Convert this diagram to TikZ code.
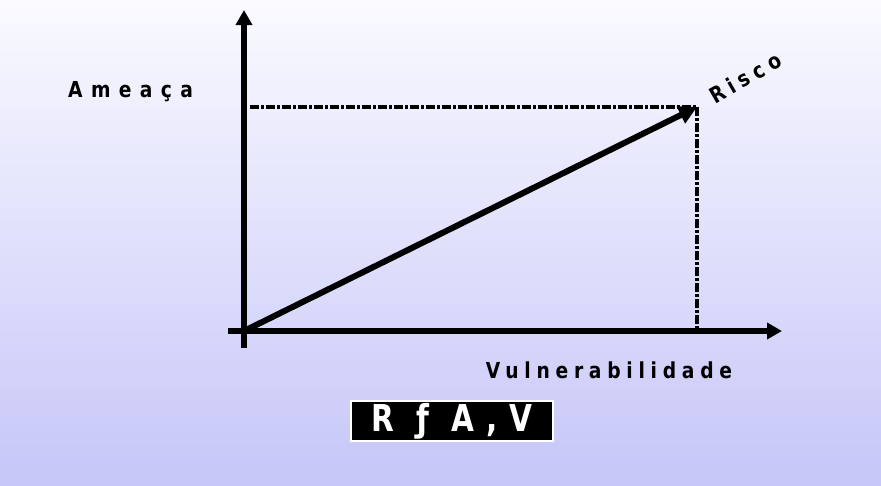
\documentclass[tikz,border=0pt]{standalone}
\usepackage{fontspec}
\setmainfont{DejaVu Sans}
\newfontfamily\labfont[LetterSpace=26,FakeStretch=0.85]{DejaVu Sans Bold}
\newfontfamily\widefont[LetterSpace=38,FakeStretch=0.85]{DejaVu Sans Bold}
\newfontfamily\boxfont[LetterSpace=32,FakeStretch=0.8]{DejaVu Sans Bold}
\usetikzlibrary{arrows.meta}
\definecolor{bgtop}{HTML}{FAFAFF}
\definecolor{bgbot}{HTML}{C6C6F8}
\tikzset{
  axis/.style={line width=6pt,-{Triangle[length=15pt,width=16pt]}},
  guide/.style={line width=3.5pt,dash pattern=on 9pt off 2pt on 3pt off 2pt},
  lab/.style={font=\labfont\fontsize{22}{22}\selectfont,inner sep=0pt}
}
\begin{document}
\begin{tikzpicture}[x=1pt,y=-1pt]
\useasboundingbox (0,0) rectangle (881,485);
\shade[top color=bgtop,bottom color=bgbot] (0,0) rectangle (881,485);
\coordinate (o) at (244,331);
\coordinate (ybot) at (244,348);
\coordinate (ytop) at (244,10);
\coordinate (xleft) at (228,331);
\coordinate (xright) at (782,331);
\coordinate (r) at (697,107);
\coordinate (ry) at (250,107);
\coordinate (rx) at (697,331);
\draw[axis] (ybot) -- (ytop);
\draw[axis] (xleft) -- (xright);
\draw[guide] (ry) -- (r);
\draw[guide] (r) -- (rx);
\draw[line width=6pt,-{Triangle[length=18pt,width=18pt]}] (o) -- (r);
\node[lab,anchor=west,font=\widefont\fontsize{22}{22}\selectfont] (ameaca) at (68,92) {Ameaça};
\node[lab,rotate=30] (risco) at (745,78) {Risco};
\node[lab] (vuln) at (609,370) {Vulnerabilidade};
\node[fill=black,draw=white,line width=2pt,minimum width=202pt,minimum height=40pt,inner sep=0pt,text=white,font=\boxfont\fontsize{37}{37}\selectfont] (formula) at (452,421) {R ƒ A,V};
\end{tikzpicture}
\end{document}
